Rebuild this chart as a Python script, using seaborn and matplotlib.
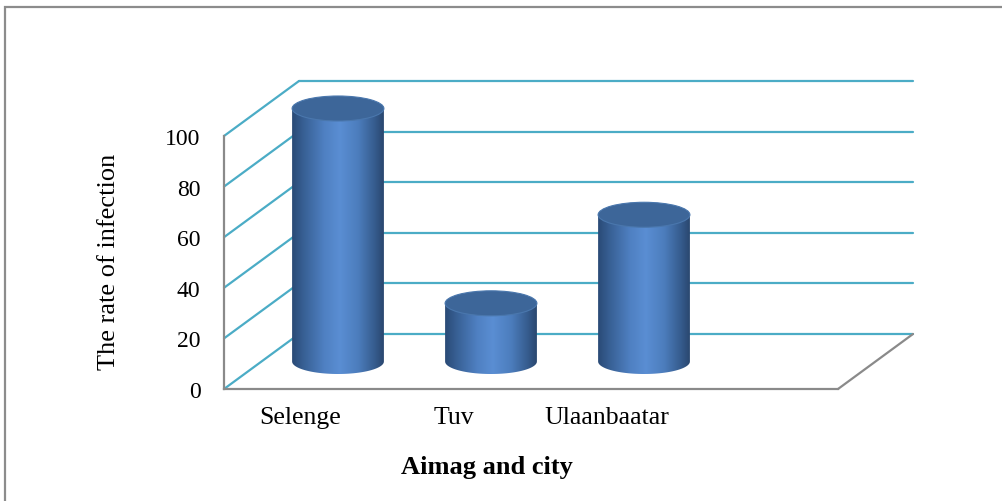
import numpy as np
import pandas as pd
import matplotlib
matplotlib.use("Agg")
import matplotlib.pyplot as plt
import seaborn as sns
import matplotlib.transforms as mtransforms
from matplotlib.patches import Ellipse, Rectangle, Polygon
from matplotlib.lines import Line2D
from matplotlib.colors import LinearSegmentedColormap

# ---- data ----
categories = ["Selenge", "Tuv", "Ulaanbaatar"]
values = [100, 23, 58]
yticks = [0, 20, 40, 60, 80, 100]
x_title = "Aimag and city"
y_title = "The rate of infection"

W, H = 1003, 502
sns.set_style("white")
plt.rcParams["font.family"] = ["Liberation Serif", "DejaVu Serif"]
plt.rcParams["text.color"] = "black"
plt.rcParams["xtick.color"] = "black"
plt.rcParams["ytick.color"] = "black"

fig = plt.figure(figsize=(W / 100, H / 100), dpi=100)
fig.patch.set_facecolor("white")

# front plane axes
ax = fig.add_axes([224 / W, 1 - 390 / H, (838 - 224) / W, (390 - 137) / H])
ax.set_facecolor("none")

df = pd.DataFrame({"cat": categories, "val": values})
sns.barplot(data=df, x="cat", y="val", ax=ax, width=0.6, color="#4f81bd",
            saturation=1, zorder=5)

XL = (-0.5, 3.513)
ax.set_xlim(*XL)
ax.set_ylim(0, 100)

DX, DY = 75, 55  # depth offset in pixels
back_tr = ax.transData + mtransforms.ScaledTranslation(DX / 100, DY / 100, fig.dpi_scale_trans)
mid_tr = ax.transData + mtransforms.ScaledTranslation(DX / 200, DY / 200, fig.dpi_scale_trans)

grid_c = "#4bacc6"
gray_c = "#8a8a8a"

fig.canvas.draw()
def back_point(x, y):
    p = ax.transData.transform((x, y))
    return ax.transData.inverted().transform((p[0] + DX, p[1] + DY))

# back wall gridlines and left wall diagonals
for t in yticks:
    ax.add_line(Line2D(list(XL), [t, t], transform=back_tr, color=grid_c, lw=1.6,
                       clip_on=False, zorder=1))
    bx, by = back_point(XL[0], t)
    ax.add_line(Line2D([XL[0], bx], [t, by], color=grid_c, lw=1.6,
                       clip_on=False, zorder=1))
# floor right edge
bx, by = back_point(XL[1], 0)
ax.add_line(Line2D([XL[1], bx], [0, by], color=gray_c, lw=1.6, clip_on=False, zorder=2))

for s in ["top", "right"]:
    ax.spines[s].set_visible(False)
for s in ["left", "bottom"]:
    ax.spines[s].set_color(gray_c)
    ax.spines[s].set_linewidth(1.6)
    ax.spines[s].set_zorder(2)

# cylinders
cmap = LinearSegmentedColormap.from_list("cyl", [
    (0.0, "#2a4a76"), (0.12, "#375f93"), (0.35, "#4f80c2"), (0.52, "#5a8ed3"),
    (0.72, "#4c7dbd"), (0.9, "#365c8e"), (1.0, "#2a476f")])
grad = np.linspace(0, 1, 256).reshape(1, -1)
ell_h = 25 / 2.53  # ellipse height in data units

for patch in list(ax.patches):
    x0, w, h = patch.get_x(), patch.get_width(), patch.get_height()
    xc = x0 + w / 2
    patch.set_visible(False)
    th = np.linspace(np.pi, 2 * np.pi, 60)
    lower = np.column_stack([xc + w / 2 * np.cos(th), ell_h / 2 * np.sin(th)])
    verts = np.vstack([[[x0, h]], [[x0, 0]], lower, [[x0 + w, 0]], [[x0 + w, h]]])
    clip = Polygon(verts, closed=True, transform=mid_tr, facecolor="none",
                   edgecolor="none", clip_on=False)
    ax.add_patch(clip)
    im = ax.imshow(grad, cmap=cmap, extent=(x0, x0 + w, -ell_h, h), aspect="auto",
                   transform=mid_tr, zorder=5, interpolation="bilinear")
    im.set_clip_box(fig.bbox)
    im.set_clip_path(clip)
    top = Ellipse((xc, h), w, ell_h, transform=mid_tr, facecolor="#3d6699",
                  edgecolor="#4a77ad", lw=0.8, zorder=6, clip_on=False)
    ax.add_patch(top)

ax.set_xlim(*XL)
ax.set_ylim(0, 100)
ax.set_aspect("auto")

ax.set_yticks(yticks)
ax.set_yticklabels([str(t) for t in yticks], fontsize=17)
ax.set_xticks(range(len(categories)))
ax.set_xticklabels(categories, fontsize=18.5)
ax.tick_params(axis="y", length=0, pad=17)
ax.tick_params(axis="x", length=0, pad=12)
ax.set_xlabel("")
ax.set_ylabel("")

fig.text(109 / W, 1 - 262 / H, y_title, rotation=90, fontsize=19,
         ha="center", va="center")
fig.text(487 / W, 1 - 468 / H, x_title, fontsize=19, fontweight="bold",
         ha="center", va="center")

fig.patches.append(Rectangle((4.5 / W, -0.1), 1.2, 1 - 7.5 / H + 0.1,
                             transform=fig.transFigure, fill=False,
                             edgecolor="#8c8c8c", lw=1.6))

fig.savefig("out.png", dpi=100)
